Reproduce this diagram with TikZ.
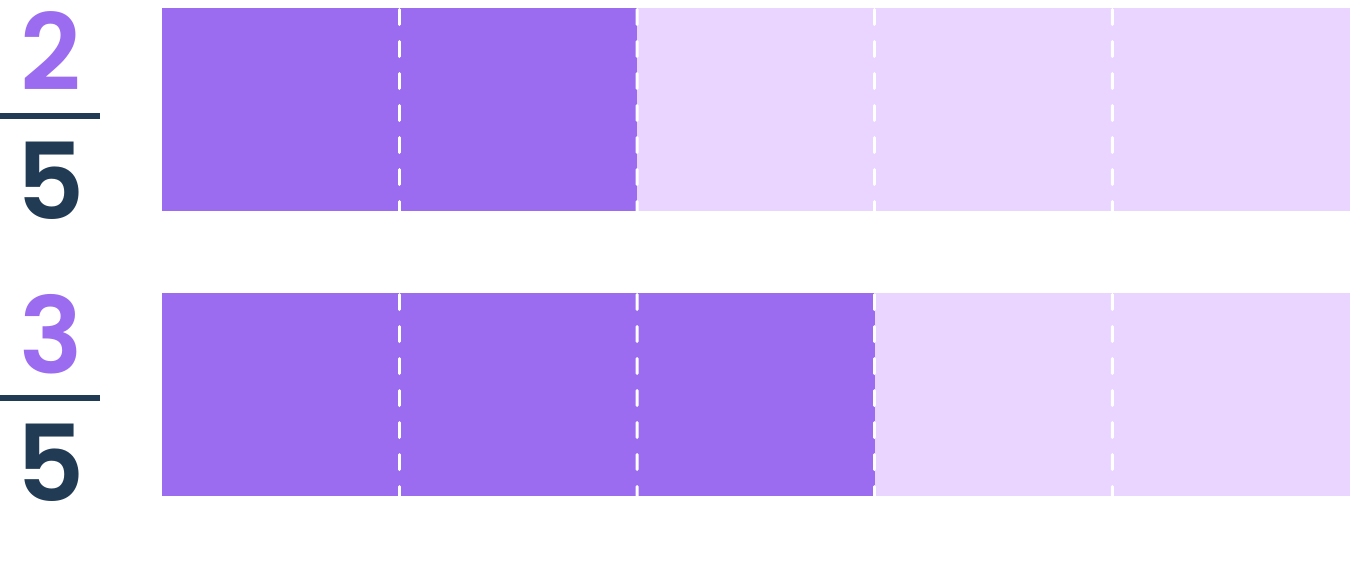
\documentclass[tikz,border=0pt]{standalone}
\usepackage{fontspec}
\setmainfont{Poppins}
\newfontfamily\digitfont{Poppins}[UprightFont={* SemiBold}]
\definecolor{fillon}{HTML}{9B6CF0}
\definecolor{filloff}{HTML}{E9D5FF}
\definecolor{numcol}{HTML}{9B6CF0}
\definecolor{dencol}{HTML}{223B54}
\begin{document}
\begin{tikzpicture}[x=1pt,y=-1pt,
  seg/.style={rectangle,draw=none,minimum width=237.6pt,minimum height=203pt,inner sep=0pt,outer sep=0pt,anchor=north west},
  on/.style={seg,fill=fillon},
  off/.style={seg,fill=filloff},
  divider/.style={white,line width=3pt,line cap=round,dash pattern=on 15pt off 17pt},
  digit/.style={font=\fontsize{106}{106}\selectfont\digitfont,inner sep=0pt,anchor=base},
  fracbar/.style={dencol,line width=6pt}]
\useasboundingbox (0,0) rectangle (1350,560);
% top bar
\node[on]  (a1) at (162,8) {};
\node[on]  (a2) at (399.6,8) {};
\node[off] (a3) at (637.2,8) {};
\node[off] (a4) at (874.8,8) {};
\node[off] (a5) at (1112.4,8) {};
% bottom bar
\node[on]  (b1) at (162,293) {};
\node[on]  (b2) at (399.6,293) {};
\node[on]  (b3) at (637.2,293) {};
\node[off] (b4) at (874.8,293) {};
\node[off] (b5) at (1112.4,293) {};
% dividers
\foreach \r in {a,b}{
  \foreach \i/\j in {1/2,2/3,3/4,4/5}{
    \draw[divider] ([yshift=-1.5pt]\r\i.north east) -- (\r\j.south west);
  }
}
% fractions
\node[digit,text=numcol] (n1) at (51,90) {2};
\coordinate (l1a) at (0,116);
\coordinate (l1b) at (100,116);
\draw[fracbar] (l1a) -- (l1b);
\node[digit,text=dencol] (d1) at (51,219) {5};
\node[digit,text=numcol] (n2) at (51,373) {3};
\coordinate (l2a) at (0,398);
\coordinate (l2b) at (100,398);
\draw[fracbar] (l2a) -- (l2b);
\node[digit,text=dencol] (d2) at (51,501) {5};
\end{tikzpicture}
\end{document}
